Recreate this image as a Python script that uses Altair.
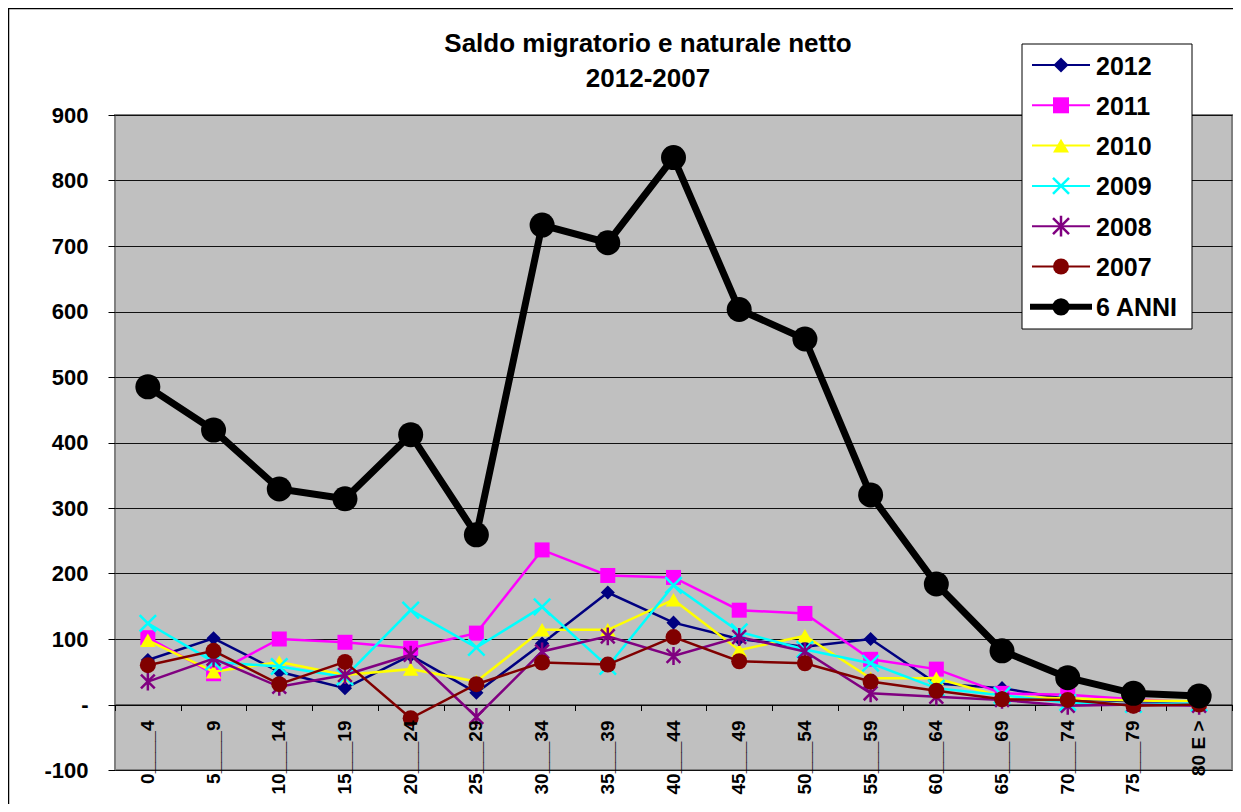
import altair as alt
import pandas as pd

FONT = "Liberation Sans"

categories = ["0____4", "5____9", "10___14", "15___19", "20___24", "25___29",
              "30___34", "35___39", "40___44", "45___49", "50___54", "55___59",
              "60___64", "65___69", "70___74", "75___79", "80 E >"]

s2012 = [68, 101, 50, 25, 75, 18, 93, 171, 125, 100, 88, 100, 32, 25, 8, 5, 4]
s2011 = [102, 47, 100, 95, 86, 109, 236, 197, 194, 144, 139, 69, 54, 17, 15, 8, 3]
s2010 = [98, 50, 65, 45, 54, 35, 114, 114, 160, 83, 105, 40, 40, 12, 9, 6, 5]
s2009 = [124, 65, 58, 42, 144, 87, 149, 58, 182, 111, 84, 63, 25, 14, 3, 0, 2]
s2008 = [35, 70, 27, 45, 76, -19, 81, 104, 74, 103, 81, 17, 12, 7, -2, 0, -2]
s2007 = [60, 82, 31, 65, -21, 31, 64, 61, 103, 66, 63, 35, 21, 8, 7, -2, 0]
s6anni = [485, 419, 329, 314, 412, 259, 732, 705, 835, 603, 558, 320, 184, 82, 41, 17, 13]

series_names = ["2012", "2011", "2010", "2009", "2008", "2007", "6 ANNI"]
series_values = [s2012, s2011, s2010, s2009, s2008, s2007, s6anni]
colors = ["#000080", "#FF00FF", "#FFFF00", "#00FFFF", "#800080", "#800000", "#000000"]

X_SHAPE = "M-1,-1L1,1M-1,1L1,-1"
STAR_SHAPE = "M-1,-1L1,1M-1,1L1,-1M0,-1.3L0,1.3"
markers = [
    dict(shape="diamond", filled=True, size=200),
    dict(shape="square", filled=True, size=225),
    dict(shape="triangle-up", filled=True, size=240),
    dict(shape=X_SHAPE, filled=False, size=270, strokeWidth=2.5),
    dict(shape=STAR_SHAPE, filled=False, size=190, strokeWidth=2.5),
    dict(shape="circle", filled=True, size=256),
    dict(shape="circle", filled=True, size=625),
]
legend_sizes = [230, 256, 256, 256, 256, 256, 300]
line_widths = [2.5, 2.5, 2.5, 2.5, 2.5, 2.5, 7]
legend_line_widths = [2, 2, 2, 2, 2, 2, 6]

W, H = 1117, 655

x_enc = alt.X(
    "idx:Q",
    scale=alt.Scale(domain=[-0.5, 16.5], nice=False, zero=False),
    axis=alt.Axis(values=[k - 0.5 for k in range(18)], labels=False, ticks=True,
                  tickSize=6, tickColor="black", tickWidth=1, domain=True,
                  domainColor="black", domainWidth=1, grid=False,
                  offset=-H / 10, title=None),
)
y_enc = alt.Y(
    "value:Q",
    scale=alt.Scale(domain=[-100, 900], nice=False, zero=False),
    axis=alt.Axis(values=list(range(-100, 1000, 100)),
                  labelExpr="datum.value == 0 ? '-' : '' + datum.value",
                  grid=True, gridColor="#111111", gridWidth=1, ticks=True,
                  tickSize=7, tickColor="black", domain=False,
                  labelFont=FONT, labelFontSize=22, labelFontWeight="bold",
                  labelColor="black", labelPadding=20, title=None),
)

layers = []

# outer chart border (left/top visible)
one = pd.DataFrame({"a": [0]})
layers.append(
    alt.Chart(one).mark_rect(filled=False, stroke="black", strokeWidth=1.5).encode(
        x=alt.value(-106.5), x2=alt.value(1300), y=alt.value(-106.5), y2=alt.value(760)
    )
)

for name, vals, col, mk, lw in zip(series_names, series_values, colors, markers, line_widths):
    df = pd.DataFrame({"idx": list(range(len(categories))), "cat": categories,
                       "value": vals, "series": name})
    layers.append(alt.Chart(df).mark_line(color=col, strokeWidth=lw).encode(x=x_enc, y=y_enc))
    layers.append(alt.Chart(df).mark_point(color=col, opacity=1, **mk).encode(x=x_enc, y=y_enc))

# category labels rotated, hanging below the zero line
lab_df = pd.DataFrame({"idx": list(range(len(categories))), "cat": categories,
                       "value": [0] * len(categories)})
layers.append(
    alt.Chart(lab_df).mark_text(angle=270, align="right", baseline="middle", dx=-16,
                                font=FONT, fontSize=19, fontWeight="bold", color="black").encode(
        x=x_enc, y=y_enc, text="cat:N"
    )
)

# legend box
LX0, LX1, LY0, LY1 = 907, 1077, -71, 214
layers.append(
    alt.Chart(one).mark_rect(fill="white", stroke="black", strokeWidth=1).encode(
        x=alt.value(LX0), x2=alt.value(LX1), y=alt.value(LY0), y2=alt.value(LY1)
    )
)
for i, (name, col, mk, lsz, llw) in enumerate(zip(series_names, colors, markers,
                                                  legend_sizes, legend_line_widths)):
    ry = -50 + 40.3 * i
    if name == "6 ANNI":
        xa, xb = 915, 977
    else:
        xa, xb = 917, 975
    layers.append(
        alt.Chart(one).mark_rule(color=col, strokeWidth=llw).encode(
            x=alt.value(xa), x2=alt.value(xb), y=alt.value(ry)
        )
    )
    kw = dict(mk)
    kw["size"] = lsz
    layers.append(
        alt.Chart(one).mark_point(color=col, opacity=1, **kw).encode(
            x=alt.value((xa + xb) / 2), y=alt.value(ry)
        )
    )
    layers.append(
        alt.Chart(one).mark_text(text=name, align="left", baseline="alphabetic", font=FONT,
                                 fontSize=25, fontWeight="bold", color="black").encode(
            x=alt.value(981), y=alt.value(ry + 9.5)
        )
    )

# title
title_lines = ["Saldo migratorio e naturale netto", "2012-2007"]
for j, t in enumerate(title_lines):
    layers.append(
        alt.Chart(one).mark_text(text=t, align="center", baseline="alphabetic", font=FONT,
                                 fontSize=26, fontWeight="bold", color="black").encode(
            x=alt.value(533), y=alt.value(-63 + 34.5 * j)
        )
    )

chart = alt.layer(*layers).properties(
    width=W, height=H,
    padding={"left": 107, "top": 107, "right": 1, "bottom": 34},
    autosize=alt.AutoSizeParams(type="none"),
    background="white",
).configure_view(fill="#C0C0C0", stroke="#808080", strokeWidth=2)

chart.save("out.html", embed_options={"renderer": "svg", "actions": False})
